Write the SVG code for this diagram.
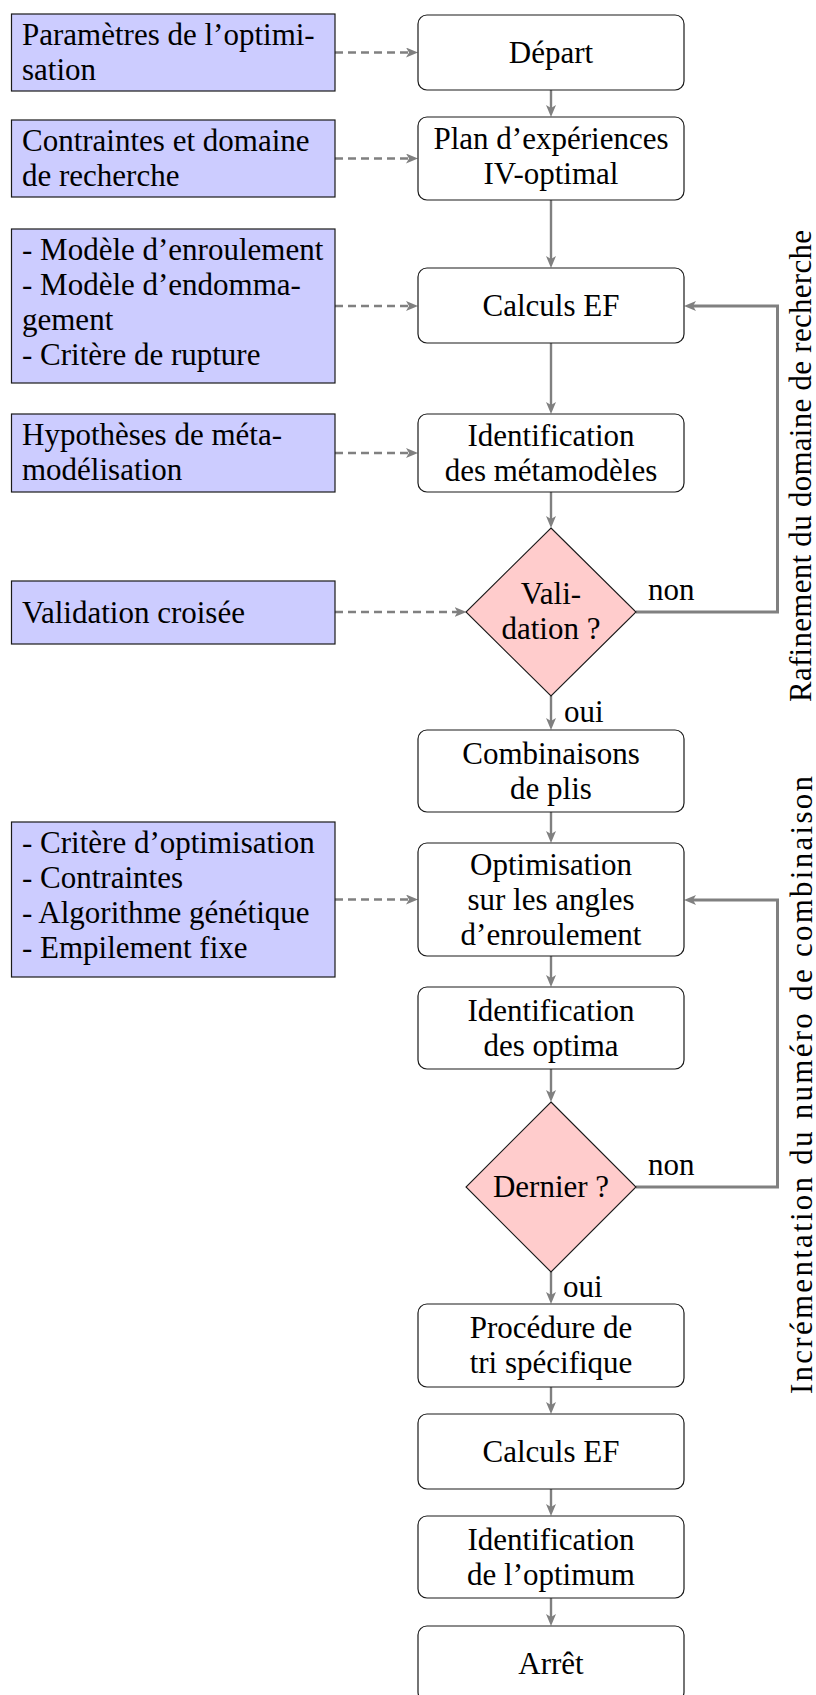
<svg xmlns="http://www.w3.org/2000/svg" width="816" height="1695" viewBox="0 0 816 1695" font-family="'Liberation Serif', 'DejaVu Serif', serif">
<defs>
<style>
text { font-family: 'Liberation Serif', 'DejaVu Serif', serif; font-size: 31px; fill: #000; }
.c { text-anchor: middle; }
.lb { fill: #ccccff; stroke: #1a1a1a; stroke-width: 1.2; }
.mb { fill: #ffffff; stroke: #1a1a1a; stroke-width: 1.2; }
.dm { fill: #ffcccc; stroke: #1a1a1a; stroke-width: 1.1; }
.solid { fill: none; stroke: #808080; stroke-width: 2.4; marker-end: url(#ah); }
.loop { fill: none; stroke: #808080; stroke-width: 3; marker-end: url(#ah); }
.dash { fill: none; stroke: #808080; stroke-width: 2.6; stroke-dasharray: 8 5; marker-end: url(#ah); }
</style>
<marker id="ah" markerWidth="13" markerHeight="11" refX="6" refY="5" orient="auto" markerUnits="userSpaceOnUse">
<path d="M0,0 L12,5 L0,10 L3,5 z" fill="#808080"/>
</marker>
</defs>
<rect width="816" height="1695" fill="#ffffff"/>

<g id="connectors">
<path class="dash" d="M335,52.5 H412"/>
<path class="dash" d="M335,158.5 H412"/>
<path class="dash" d="M335,306 H412"/>
<path class="dash" d="M335,453 H412"/>
<path class="dash" d="M335,612 H460.5"/>
<path class="dash" d="M335,899.5 H412"/>
<path class="solid" d="M551,90 V111"/>
<path class="solid" d="M551,200 V262"/>
<path class="solid" d="M551,343 V408"/>
<path class="solid" d="M551,492 V522"/>
<path class="solid" d="M551,696 V724"/>
<path class="solid" d="M551,812 V837"/>
<path class="solid" d="M551,956 V981"/>
<path class="solid" d="M551,1069 V1096"/>
<path class="solid" d="M551,1272 V1298"/>
<path class="solid" d="M551,1387 V1408"/>
<path class="solid" d="M551,1489 V1510"/>
<path class="solid" d="M551,1598 V1620"/>
<path class="loop" d="M636,612 H777.5 V306 H690"/>
<path class="loop" d="M636,1187 H777.5 V900 H690"/>
<text x="648" y="600">non</text>
<text x="648" y="1175">non</text>
<text x="564" y="721.5">oui</text>
<text x="563" y="1297">oui</text>
<text class="c" transform="translate(811,466) rotate(-90)" textLength="472" lengthAdjust="spacing">Rafinement du domaine de recherche</text>
<text class="c" transform="translate(812,1085) rotate(-90)" textLength="618" lengthAdjust="spacing">Incrémentation du numéro de combinaison</text>
</g>

<g id="in-parametres">
<rect class="lb" x="11.5" y="14" width="323.5" height="77"/>
<text x="22" y="44.5">Paramètres de l’optimi-</text>
<text x="22" y="79.5">sation</text>
</g>
<g id="in-contraintes">
<rect class="lb" x="11.5" y="120" width="323.5" height="77"/>
<text x="22" y="151">Contraintes et domaine</text>
<text x="22" y="186">de recherche</text>
</g>
<g id="in-modeles">
<rect class="lb" x="11.5" y="229" width="323.5" height="154"/>
<text x="22" y="260">- Modèle d’enroulement</text>
<text x="22" y="295">- Modèle d’endomma-</text>
<text x="22" y="330">gement</text>
<text x="22" y="365">- Critère de rupture</text>
</g>
<g id="in-hypotheses">
<rect class="lb" x="11.5" y="414" width="323.5" height="78"/>
<text x="22" y="445">Hypothèses de méta-</text>
<text x="22" y="480">modélisation</text>
</g>
<g id="in-validation">
<rect class="lb" x="11.5" y="581" width="323.5" height="63"/>
<text x="22" y="622.5">Validation croisée</text>
</g>
<g id="in-optim">
<rect class="lb" x="11.5" y="822" width="323.5" height="155"/>
<text x="22" y="853">- Critère d’optimisation</text>
<text x="22" y="888">- Contraintes</text>
<text x="22" y="923">- Algorithme génétique</text>
<text x="22" y="958">- Empilement fixe</text>
</g>

<g id="depart">
<rect class="mb" x="418" y="15" width="266" height="75" rx="9"/>
<text class="c" x="551" y="62.5">Départ</text>
</g>
<g id="plan">
<rect class="mb" x="418" y="117" width="266" height="83" rx="9"/>
<text class="c" x="551" y="149">Plan d’expériences</text>
<text class="c" x="551" y="184">IV-optimal</text>
</g>
<g id="calculs1">
<rect class="mb" x="418" y="268" width="266" height="75" rx="9"/>
<text class="c" x="551" y="315.5">Calculs EF</text>
</g>
<g id="ident-meta">
<rect class="mb" x="418" y="414" width="266" height="78" rx="9"/>
<text class="c" x="551" y="445.5">Identification</text>
<text class="c" x="551" y="480.5">des métamodèles</text>
</g>
<g id="validation">
<polygon class="dm" points="551,528 636,612 551,696 466,612"/>
<text class="c" x="551" y="604">Vali-</text>
<text class="c" x="551" y="639">dation ?</text>
</g>
<g id="combinaisons">
<rect class="mb" x="418" y="730" width="266" height="82" rx="9"/>
<text class="c" x="551" y="763.5">Combinaisons</text>
<text class="c" x="551" y="798.5">de plis</text>
</g>
<g id="optimisation">
<rect class="mb" x="418" y="843" width="266" height="113" rx="9"/>
<text class="c" x="551" y="875">Optimisation</text>
<text class="c" x="551" y="910">sur les angles</text>
<text class="c" x="551" y="945">d’enroulement</text>
</g>
<g id="ident-optima">
<rect class="mb" x="418" y="987" width="266" height="82" rx="9"/>
<text class="c" x="551" y="1020.5">Identification</text>
<text class="c" x="551" y="1055.5">des optima</text>
</g>
<g id="dernier">
<polygon class="dm" points="551,1102 636,1187 551,1272 466,1187"/>
<text class="c" x="551" y="1197">Dernier ?</text>
</g>
<g id="procedure">
<rect class="mb" x="418" y="1304" width="266" height="83" rx="9"/>
<text class="c" x="551" y="1338">Procédure de</text>
<text class="c" x="551" y="1373">tri spécifique</text>
</g>
<g id="calculs2">
<rect class="mb" x="418" y="1414" width="266" height="75" rx="9"/>
<text class="c" x="551" y="1461.5">Calculs EF</text>
</g>
<g id="ident-optimum">
<rect class="mb" x="418" y="1516" width="266" height="82" rx="9"/>
<text class="c" x="551" y="1549.5">Identification</text>
<text class="c" x="551" y="1584.5">de l’optimum</text>
</g>
<g id="arret">
<rect class="mb" x="418" y="1626" width="266" height="75" rx="9"/>
<text class="c" x="551" y="1673.5">Arrêt</text>
</g>
</svg>
